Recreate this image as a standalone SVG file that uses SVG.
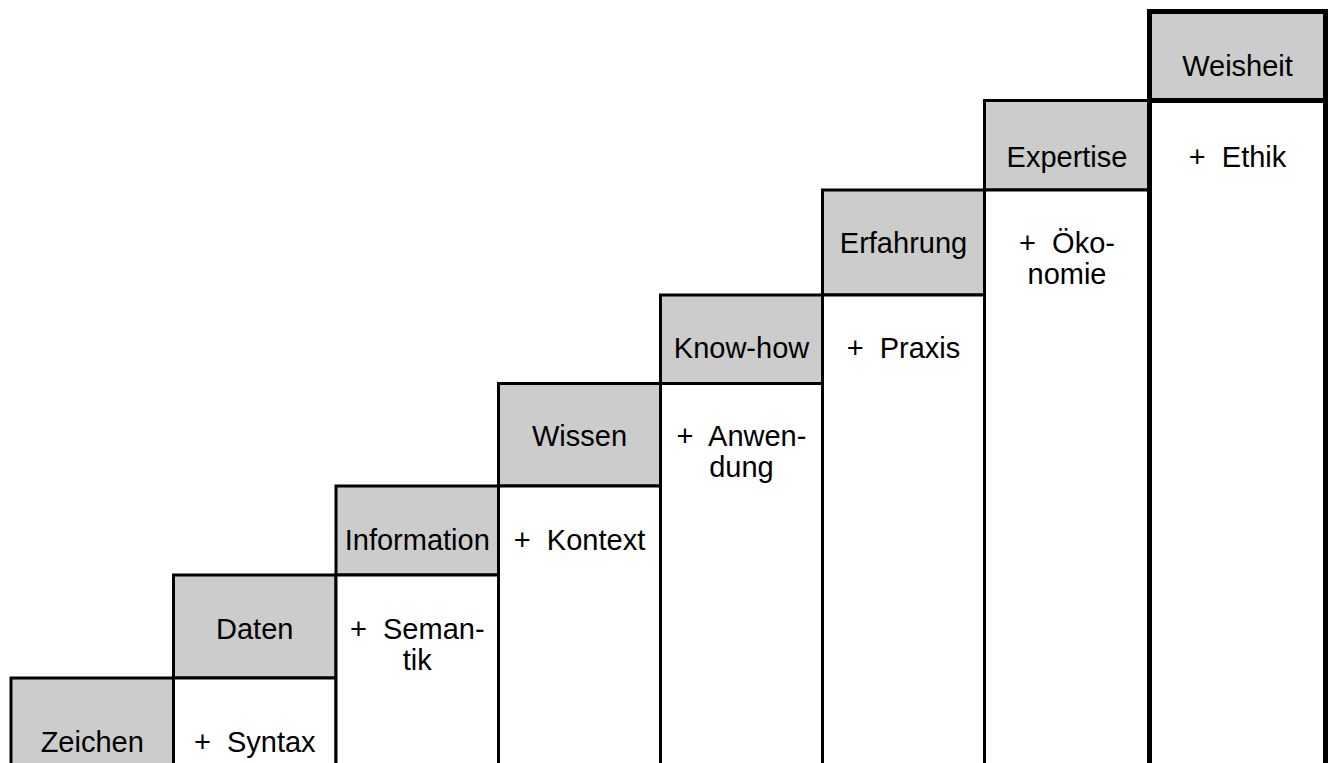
<svg xmlns="http://www.w3.org/2000/svg" width="1329" height="763" viewBox="0 0 1329 763">
<style>
.g{fill:#cccccc;stroke:#000;stroke-width:3}
.w{fill:#ffffff;stroke:#000;stroke-width:3}
.thick .g,.thick .w{stroke-width:5}
text{font-family:"Liberation Sans",Arial,Helvetica,sans-serif;font-size:29px;fill:#000;text-anchor:middle}
</style>
<rect x="0" y="0" width="1329" height="763" fill="#ffffff"/>
<g id="zeichen">
<rect class="g" x="11" y="678" width="162.5" height="100"/>
<text x="92.25" y="752">Zeichen</text>
</g>
<g id="daten">
<rect class="g" x="173.5" y="575" width="162.5" height="103"/>
<rect class="w" x="173.5" y="678" width="162.5" height="100"/>
<text x="254.75" y="639">Daten</text>
<text x="254.75" y="752" xml:space="preserve">+  Syntax</text>
</g>
<g id="information">
<rect class="g" x="336" y="486" width="162.5" height="89"/>
<rect class="w" x="336" y="575" width="162.5" height="200"/>
<text x="417.25" y="550">Information</text>
<text x="417.25" y="639" xml:space="preserve">+  Seman-</text>
<text x="417.25" y="670">tik</text>
</g>
<g id="wissen">
<rect class="g" x="498.5" y="383.5" width="162" height="102.5"/>
<rect class="w" x="498.5" y="486" width="162" height="290"/>
<text x="579.5" y="446">Wissen</text>
<text x="579.5" y="550" xml:space="preserve">+  Kontext</text>
</g>
<g id="knowhow">
<rect class="g" x="660.5" y="295" width="162" height="88.5"/>
<rect class="w" x="660.5" y="383.5" width="162" height="400"/>
<text x="741.5" y="357.5">Know-how</text>
<text x="741.5" y="446" xml:space="preserve">+  Anwen-</text>
<text x="741.5" y="477">dung</text>
</g>
<g id="erfahrung">
<rect class="g" x="822.5" y="190" width="162" height="105"/>
<rect class="w" x="822.5" y="295" width="162" height="480"/>
<text x="903.5" y="253">Erfahrung</text>
<text x="903.5" y="357.5" xml:space="preserve">+  Praxis</text>
</g>
<g id="expertise">
<rect class="g" x="984.5" y="100.5" width="165" height="89.5"/>
<rect class="w" x="984.5" y="190" width="165" height="580"/>
<text x="1067" y="166.5">Expertise</text>
<text x="1067" y="253" xml:space="preserve">+  Öko-</text>
<text x="1067" y="284">nomie</text>
</g>
<g id="weisheit" class="thick">
<rect class="g" x="1149.5" y="11.5" width="176" height="89"/>
<rect class="w" x="1149.5" y="100.5" width="176" height="670"/>
<text x="1237.5" y="76">Weisheit</text>
<text x="1237.5" y="166.5" xml:space="preserve">+  Ethik</text>
</g>
</svg>
